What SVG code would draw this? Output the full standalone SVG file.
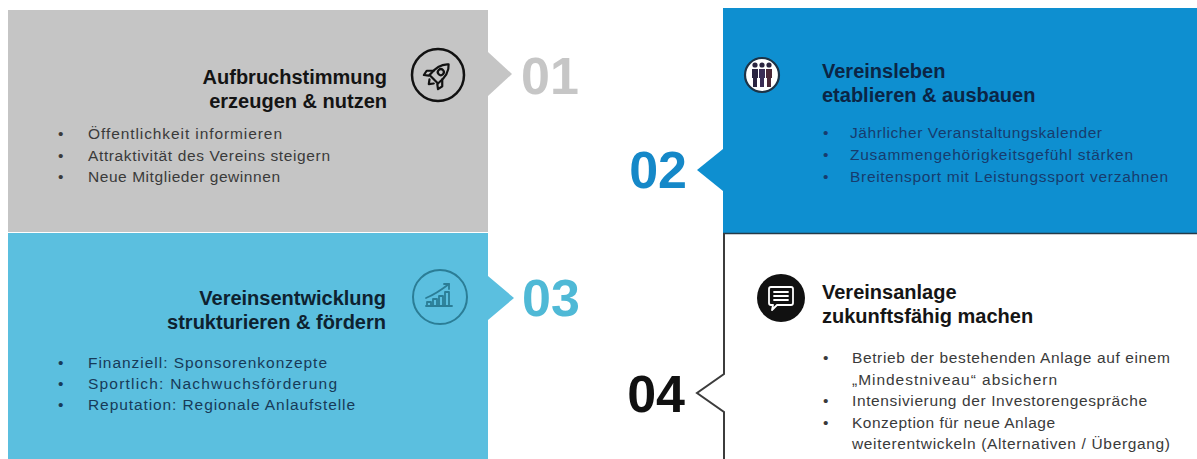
<svg xmlns="http://www.w3.org/2000/svg" width="1197" height="459" viewBox="0 0 1197 459">
<style>
.title{font-family:"Liberation Sans",Arial,sans-serif;font-weight:bold;font-size:20px}
.bul{font-family:"Liberation Sans",Arial,sans-serif;font-size:15.5px}
.num{font-family:"Liberation Sans",Arial,sans-serif;font-weight:bold;font-size:52px}
.ico{fill:none;stroke-linecap:round;stroke-linejoin:round}
</style>
<rect width="1197" height="459" fill="#ffffff"/>

<g id="node-01">
  <rect x="8" y="10" width="480" height="222" fill="#c5c5c5"/>
  <g class="title" fill="#141414" text-anchor="end">
    <text x="387" y="84">Aufbruchstimmung</text>
    <text x="387" y="108">erzeugen &amp; nutzen</text>
  </g>
  <g transform="translate(438,75)">
    <circle r="26" class="ico" stroke="#111" stroke-width="2.5"/>
    <g transform="rotate(45)" class="ico" stroke="#111" stroke-width="2.2">
      <path d="M0,-15 C6,-10 7,-3 6,6 L-6,6 C-7,-3 -6,-10 0,-15 Z"/>
      <path d="M-6,0 L-11,5 L-10,10 L-6,7"/>
      <path d="M6,0 L11,5 L10,10 L6,7"/>
      <circle cx="0" cy="-4" r="3"/>
      <path d="M-3,9 L0,13 L3,9"/>
    </g>
  </g>
  <g class="bul" fill="#3a3a3a">
    <text x="58" y="139">•</text><text x="88" y="139" textLength="194" lengthAdjust="spacing">Öffentlichkeit informieren</text>
    <text x="58" y="160.5">•</text><text x="88" y="160.5" textLength="242" lengthAdjust="spacing">Attraktivität des Vereins steigern</text>
    <text x="58" y="182">•</text><text x="88" y="182" textLength="192" lengthAdjust="spacing">Neue Mitglieder gewinnen</text>
  </g>
  <text class="num" x="521" y="94" fill="#c6c6c6">01</text>
</g>

<g id="node-03">
  <rect x="8" y="233" width="480" height="226" fill="#5bbfdf"/>
  <g class="title" fill="#0e2230" text-anchor="end">
    <text x="386" y="305">Vereinsentwicklung</text>
    <text x="386" y="329">strukturieren &amp; fördern</text>
  </g>
  <g transform="translate(440,297)">
    <circle r="27" class="ico" stroke="#2b7d96" stroke-width="2"/>
    <g class="ico" stroke="#2b7d96" stroke-width="1.8">
      <path d="M-13,9 L-13,5 L-9,5 L-9,9"/>
      <path d="M-7,9 L-7,2 L-3,2 L-3,9"/>
      <path d="M-1,9 L-1,-1 L3,-1 L3,9"/>
      <path d="M5,9 L5,-5 L9,-5 L9,9"/>
      <path d="M-14,9 L12,9"/>
      <path d="M-14,1 Q-4,-3 9,-13"/>
      <path d="M4,-13 L9,-13 L9,-8"/>
    </g>
  </g>
  <g class="bul" fill="#173a58">
    <text x="58" y="368">•</text><text x="88" y="368" textLength="239" lengthAdjust="spacing">Finanziell: Sponsorenkonzepte</text>
    <text x="58" y="389">•</text><text x="88" y="389" textLength="249" lengthAdjust="spacing">Sportlich: Nachwuchsförderung</text>
    <text x="58" y="410">•</text><text x="88" y="410" textLength="267" lengthAdjust="spacing">Reputation: Regionale Anlaufstelle</text>
  </g>
  <text class="num" x="522" y="316" fill="#4fb9d6">03</text>
</g>

<g id="node-02">
  <rect x="723" y="8" width="474" height="225" fill="#0e8fd0"/>
  <g transform="translate(762,75)">
    <circle r="17" fill="#ffffff" stroke="#1c3347" stroke-width="2.2"/>
    <g fill="#2a2440">
      <circle cx="-7" cy="-10" r="2.6"/>
      <circle cx="0" cy="-10" r="2.6"/>
      <circle cx="7" cy="-10" r="2.6"/>
      <path d="M-10,-6 H-4 V3 H-5 V12 H-9 V3 H-10 Z"/>
      <path d="M-3,-6 H3 V3 H2 V12 H-2 V3 H-3 Z" fill="#3a2c55"/>
      <path d="M4,-6 H10 V3 H9 V12 H5 V3 H4 Z" fill="#4a2838"/>
    </g>
  </g>
  <g class="title" fill="#0b2545">
    <text x="822" y="78">Vereinsleben</text>
    <text x="822" y="102">etablieren &amp; ausbauen</text>
  </g>
  <g class="bul" fill="#173c6e">
    <text x="823" y="138">•</text><text x="850" y="138" textLength="252" lengthAdjust="spacing">Jährlicher Veranstaltungskalender</text>
    <text x="823" y="160">•</text><text x="850" y="160" textLength="283" lengthAdjust="spacing">Zusammengehörigkeitsgefühl stärken</text>
    <text x="823" y="181.5">•</text><text x="850" y="181.5" textLength="318" lengthAdjust="spacing">Breitensport mit Leistungssport verzahnen</text>
  </g>
  <text class="num" x="687" y="188" fill="#1588c8" text-anchor="end">02</text>
</g>

<g id="node-04">
  <rect x="724" y="233" width="473" height="226" fill="#ffffff"/>
  <line x1="723" y1="233.5" x2="1197" y2="233.5" stroke="#243a48" stroke-width="1.5"/>
  <g transform="translate(781,298)">
    <circle r="24" fill="#111111"/>
    <g class="ico" stroke="#ffffff" stroke-width="1.8">
      <path d="M-10,-11 H10 Q12,-11 12,-9 V5 Q12,7 10,7 H-4 L-9,12 L-8,7 H-10 Q-12,7 -12,5 V-9 Q-12,-11 -10,-11 Z"/>
      <path d="M-7,-6 H7 M-7,-2 H7 M-7,2 H7"/>
    </g>
  </g>
  <g class="title" fill="#151515">
    <text x="822" y="299">Vereinsanlage</text>
    <text x="822" y="323">zukunftsfähig machen</text>
  </g>
  <g class="bul" fill="#3a3a3a">
    <text x="823" y="363">•</text><text x="852" y="363" textLength="318" lengthAdjust="spacing">Betrieb der bestehenden Anlage auf einem</text>
    <text x="852" y="384.5" textLength="205" lengthAdjust="spacing">„Mindestniveau“ absichern</text>
    <text x="823" y="406">•</text><text x="852" y="406" textLength="295" lengthAdjust="spacing">Intensivierung der Investorengespräche</text>
    <text x="823" y="427.5">•</text><text x="852" y="427.5" textLength="203" lengthAdjust="spacing">Konzeption für neue Anlage</text>
    <text x="852" y="449" textLength="318" lengthAdjust="spacing">weiterentwickeln (Alternativen / Übergang)</text>
  </g>
  <text class="num" x="685" y="412" fill="#111111" text-anchor="end">04</text>
</g>

<g id="connectors">
  <polygon points="488,52 512,74 488,96" fill="#c5c5c5"/>
  <polygon points="488,276 514,298 488,320" fill="#5bbfdf"/>
  <polygon points="723,149 697,170 723,191" fill="#0e8fd0"/>
  <polyline points="724,233 724,374 697,393 724,412 724,459" fill="none" stroke="#3c3c3c" stroke-width="2"/>
</g>
</svg>
